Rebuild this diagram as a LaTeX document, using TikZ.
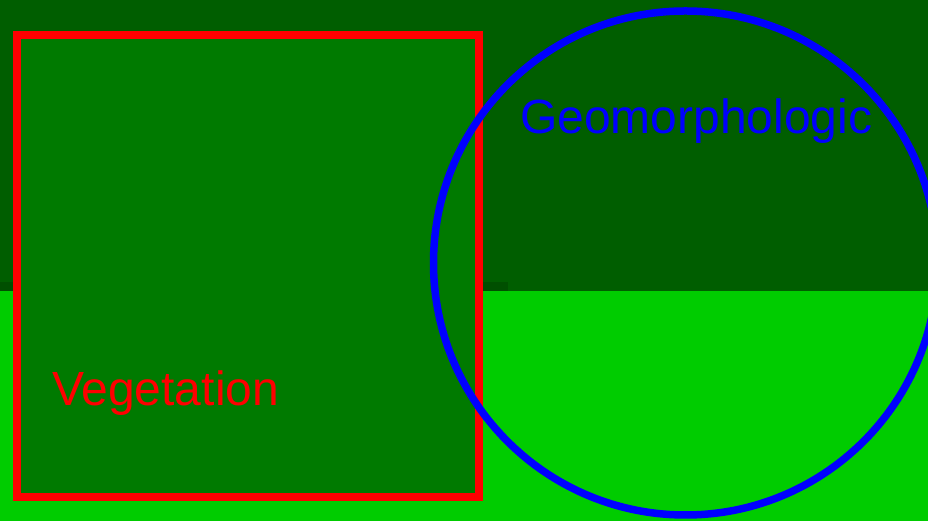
\documentclass[tikz,border=0pt]{standalone}
\usepackage{fontspec}
\setmainfont{Liberation Sans}
\definecolor{topgreen}{HTML}{005E00}
\definecolor{lowgreen}{HTML}{00CC00}
\definecolor{stripgreen}{HTML}{004F00}
\definecolor{rectgreen}{HTML}{007A00}
\begin{document}
\begin{tikzpicture}[x=1pt,y=1pt,
  zone/.style={draw=red,line width=8pt,fill=rectgreen,minimum size=462pt,inner sep=0pt,outer sep=0pt},
  ring/.style={draw=blue,line width=7.5pt,circle,minimum size=504pt,inner sep=0pt,outer sep=0pt},
  label/.style={font=\fontsize{48}{50}\selectfont,inner sep=0pt,anchor=base west}]
\useasboundingbox (0,0) rectangle (928,521);
\fill[topgreen] (0,0) rectangle (928,521);
\fill[lowgreen] (0,0) rectangle (928,230);
\fill[stripgreen] (0,230) rectangle (508,239);
\node[zone] (veg) at (248,255) {};
\node[label,text=red] (vegtext) at (52,115) {Vegetation};
\node[ring] (geo) at (685.5,258) {};
\node[label,text=blue] (geotext) at (520,387) {Geomorphologic};
\end{tikzpicture}
\end{document}
